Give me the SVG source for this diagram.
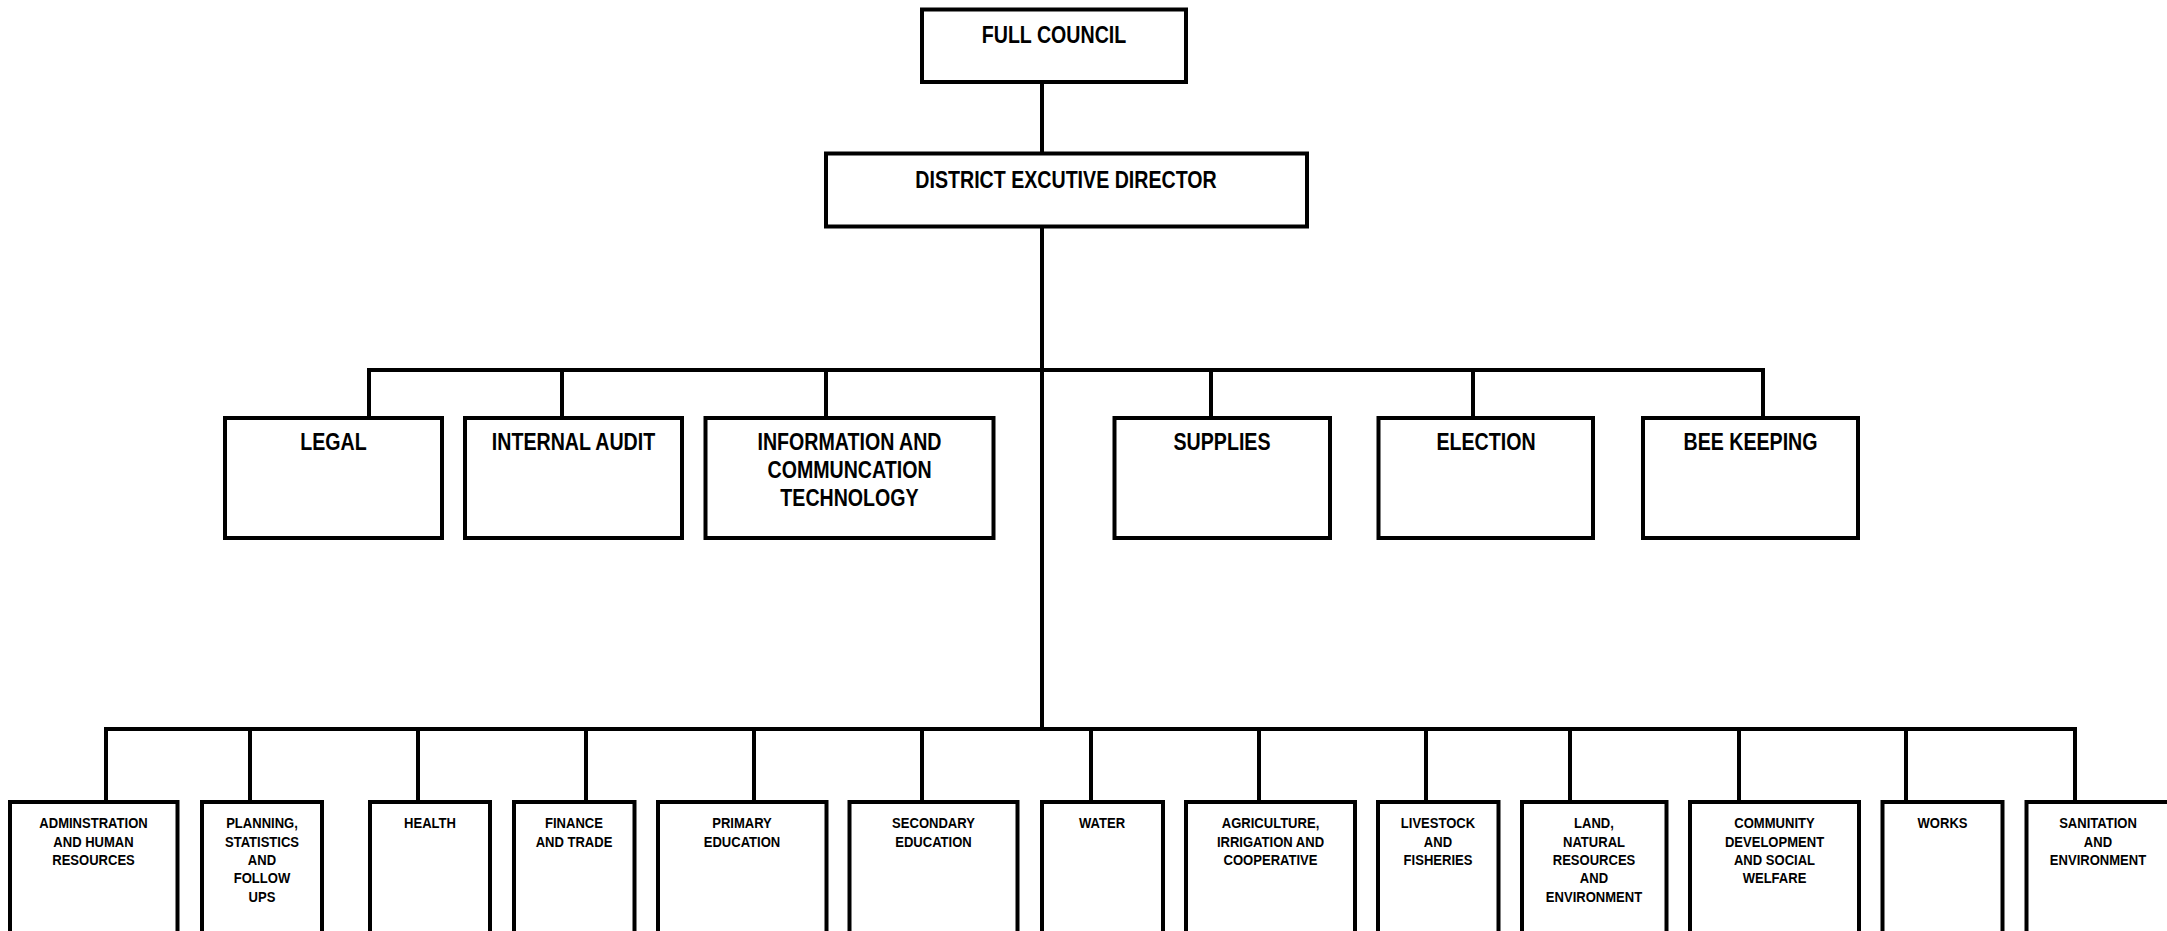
<svg xmlns="http://www.w3.org/2000/svg" width="2167" height="931" viewBox="0 0 2167 931">
<style>
.box{fill:#fff;stroke:#000;stroke-width:4}
.ln{fill:none;stroke:#000;stroke-width:4;stroke-linecap:square}
.t1{font-family:"Liberation Sans",Arial,sans-serif;font-weight:bold;font-size:23px;text-anchor:middle;fill:#000}
.t2{font-family:"Liberation Sans",Arial,sans-serif;font-weight:bold;font-size:15.3px;text-anchor:middle;fill:#000}
</style>
<rect width="2167" height="931" fill="#fff"/>
<g id="connectors">
<path class="ln" d="M1042,82 V153"/>
<path class="ln" d="M1042,227 V729"/>
<path class="ln" d="M369,418 V370 H1763 V418"/>
<path class="ln" d="M562,370 V418 M826,370 V418 M1211,370 V418 M1473,370 V418"/>
<path class="ln" d="M106,802 V729 H2075 V802"/>
<path class="ln" d="M250,729 V802 M418,729 V802 M586,729 V802 M754,729 V802 M922,729 V802 M1091,729 V802 M1259,729 V802 M1426,729 V802 M1570,729 V802 M1739,729 V802 M1906,729 V802"/>
</g>
<g id="full-council">
<rect class="box" x="922" y="9.5" width="264" height="72.5"/>
<text class="t1" transform="translate(1054,43) scale(0.853,1)" x="0" y="0">FULL COUNCIL</text>
</g>
<g id="ded">
<rect class="box" x="826" y="153.5" width="481" height="73"/>
<text class="t1" transform="translate(1066,188) scale(0.853,1)" x="0" y="0">DISTRICT EXCUTIVE DIRECTOR</text>
</g>
<g id="legal">
<rect class="box" x="225" y="418" width="217" height="120"/>
<text class="t1" transform="translate(333.5,450) scale(0.853,1)" x="0" y="0">LEGAL</text>
</g>
<g id="internal-audit">
<rect class="box" x="465" y="418" width="217" height="120"/>
<text class="t1" transform="translate(573.5,450) scale(0.853,1)" x="0" y="0">INTERNAL AUDIT</text>
</g>
<g id="ict">
<rect class="box" x="705.5" y="418" width="288" height="120"/>
<text class="t1" transform="translate(849.5,450) scale(0.853,1)"><tspan x="0" y="0">INFORMATION AND</tspan><tspan x="0" y="28">COMMUNCATION</tspan><tspan x="0" y="56">TECHNOLOGY</tspan></text>
</g>
<g id="supplies">
<rect class="box" x="1114.5" y="418" width="215.5" height="120"/>
<text class="t1" transform="translate(1222,450) scale(0.853,1)" x="0" y="0">SUPPLIES</text>
</g>
<g id="election">
<rect class="box" x="1378.5" y="418" width="214.5" height="120"/>
<text class="t1" transform="translate(1486,450) scale(0.853,1)" x="0" y="0">ELECTION</text>
</g>
<g id="bee-keeping">
<rect class="box" x="1643" y="418" width="215" height="120"/>
<text class="t1" transform="translate(1750.5,450) scale(0.853,1)" x="0" y="0">BEE KEEPING</text>
</g>
<g id="administration">
<rect class="box" x="10" y="802" width="167.5" height="160"/>
<text class="t2" transform="translate(93.5,828.3) scale(0.853,1)"><tspan x="0" y="0">ADMINSTRATION</tspan><tspan x="0" y="18.4">AND HUMAN</tspan><tspan x="0" y="36.8">RESOURCES</tspan></text>
</g>
<g id="planning">
<rect class="box" x="202" y="802" width="120" height="160"/>
<text class="t2" transform="translate(262,828.3) scale(0.853,1)"><tspan x="0" y="0">PLANNING,</tspan><tspan x="0" y="18.4">STATISTICS</tspan><tspan x="0" y="36.8">AND</tspan><tspan x="0" y="55.2">FOLLOW</tspan><tspan x="0" y="73.6">UPS</tspan></text>
</g>
<g id="health">
<rect class="box" x="370" y="802" width="120" height="160"/>
<text class="t2" transform="translate(430,828.3) scale(0.853,1)" x="0" y="0">HEALTH</text>
</g>
<g id="finance">
<rect class="box" x="514" y="802" width="120.5" height="160"/>
<text class="t2" transform="translate(574,828.3) scale(0.853,1)"><tspan x="0" y="0">FINANCE</tspan><tspan x="0" y="18.4">AND TRADE</tspan></text>
</g>
<g id="primary-education">
<rect class="box" x="658" y="802" width="168.5" height="160"/>
<text class="t2" transform="translate(742,828.3) scale(0.853,1)"><tspan x="0" y="0">PRIMARY</tspan><tspan x="0" y="18.4">EDUCATION</tspan></text>
</g>
<g id="secondary-education">
<rect class="box" x="849.5" y="802" width="168" height="160"/>
<text class="t2" transform="translate(933.5,828.3) scale(0.853,1)"><tspan x="0" y="0">SECONDARY</tspan><tspan x="0" y="18.4">EDUCATION</tspan></text>
</g>
<g id="water">
<rect class="box" x="1042" y="802" width="121" height="160"/>
<text class="t2" transform="translate(1102,828.3) scale(0.853,1)" x="0" y="0">WATER</text>
</g>
<g id="agriculture">
<rect class="box" x="1186" y="802" width="169" height="160"/>
<text class="t2" transform="translate(1270.5,828.3) scale(0.853,1)"><tspan x="0" y="0">AGRICULTURE,</tspan><tspan x="0" y="18.4">IRRIGATION AND</tspan><tspan x="0" y="36.8">COOPERATIVE</tspan></text>
</g>
<g id="livestock">
<rect class="box" x="1378" y="802" width="120.5" height="160"/>
<text class="t2" transform="translate(1438,828.3) scale(0.853,1)"><tspan x="0" y="0">LIVESTOCK</tspan><tspan x="0" y="18.4">AND</tspan><tspan x="0" y="36.8">FISHERIES</tspan></text>
</g>
<g id="land">
<rect class="box" x="1522" y="802" width="144.5" height="160"/>
<text class="t2" transform="translate(1594,828.3) scale(0.853,1)"><tspan x="0" y="0">LAND,</tspan><tspan x="0" y="18.4">NATURAL</tspan><tspan x="0" y="36.8">RESOURCES</tspan><tspan x="0" y="55.2">AND</tspan><tspan x="0" y="73.6">ENVIRONMENT</tspan></text>
</g>
<g id="community">
<rect class="box" x="1690" y="802" width="169" height="160"/>
<text class="t2" transform="translate(1774.5,828.3) scale(0.853,1)"><tspan x="0" y="0">COMMUNITY</tspan><tspan x="0" y="18.4">DEVELOPMENT</tspan><tspan x="0" y="36.8">AND SOCIAL</tspan><tspan x="0" y="55.2">WELFARE</tspan></text>
</g>
<g id="works">
<rect class="box" x="1882.5" y="802" width="120" height="160"/>
<text class="t2" transform="translate(1942.5,828.3) scale(0.853,1)" x="0" y="0">WORKS</text>
</g>
<g id="sanitation">
<rect class="box" x="2026.5" y="802" width="144" height="160"/>
<text class="t2" transform="translate(2098,828.3) scale(0.853,1)"><tspan x="0" y="0">SANITATION</tspan><tspan x="0" y="18.4">AND</tspan><tspan x="0" y="36.8">ENVIRONMENT</tspan></text>
</g>
</svg>
